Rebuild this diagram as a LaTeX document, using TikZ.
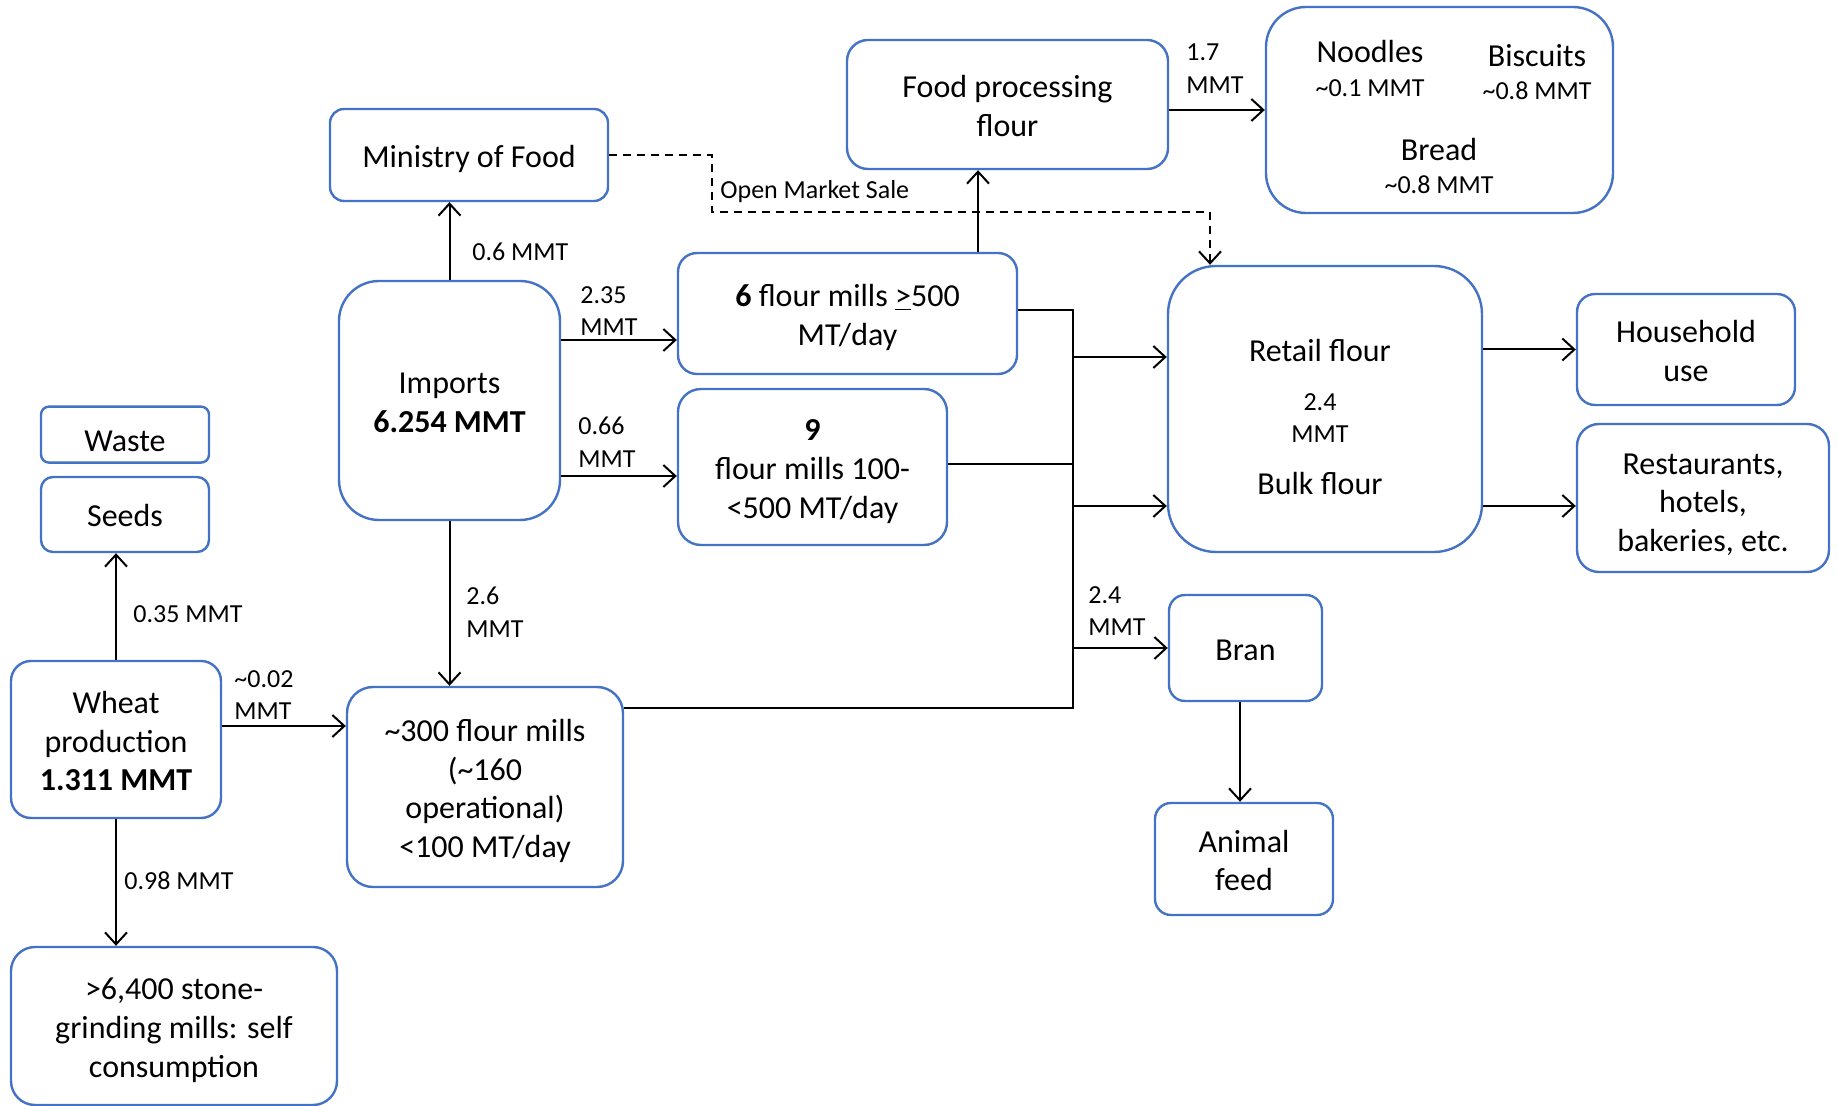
\documentclass[tikz,border=0pt]{standalone}
\usepackage{fontspec}
\setmainfont{Carlito}
\usetikzlibrary{positioning, arrows.meta}

\definecolor{boxblue}{HTML}{4472C4}
\newcommand\boxfont{\fontsize{16}{19.3}\selectfont}
\newcommand\lblfont{\fontsize{13}{16.4}\selectfont}
\newcommand\fls{\rule{0pt}{17pt}}

\begin{document}
\begin{tikzpicture}[x=0.5pt, y=-0.5pt,
  box/.style={draw=boxblue, line width=1.2pt, rounded corners=#1, align=center, inner sep=0pt, font=\boxfont,
    execute at begin node=\fls, text depth=4.5pt},
  box/.default=9pt,
  arrow/.style={-{Straight Barb[length=6pt,width=11pt]}, line width=1pt},
  omsline/.style={arrow, dash pattern=on 4pt off 3pt},
  lbl/.style={font=\lblfont, align=left, inner sep=0pt, anchor=west}]

\useasboundingbox (0,0) rectangle (1837,1106);

%izvori
\node[box=10pt, minimum width=105pt, minimum height=78.5pt] (wheat) at (116,739.5) {\fls Wheat\\production\\\textbf{1.311 MMT}};
\node[box=20pt, minimum width=110.5pt, minimum height=119.5pt] (imports) at (449.5,400.5) {\fls Imports\\\textbf{6.254 MMT}};
\node[box=7pt, minimum width=139pt, minimum height=46pt] (ministry) at (469,155) {Ministry of Food};

%domaca psenica
\node[box=6pt, minimum width=84pt, minimum height=37.5pt] (seeds) at (125,514.5) {Seeds};
\node[box=4pt, minimum width=84pt, minimum height=28pt, above=6pt of seeds, text depth=-2.5pt] (waste) {Waste};
\node[box=12pt, minimum width=163pt, minimum height=79pt] (stone) at (174,1026) {\fls>6,400 stone-\\grinding mills: self\\consumption};

%mlinovi
\node[box=9.5pt, minimum width=169.5pt, minimum height=60.5pt] (mills6) at (847.5,313.5) {\fls\textbf{6} flour mills \underline{>}500\\MT/day};
\node[box=11.5pt, minimum width=134.5pt, minimum height=78pt] (mills9) at (812.5,467) {\fls\textbf{9}\\flour mills 100-\\<500 MT/day};
\node[box=13pt, minimum width=138pt, minimum height=100pt] (mills300) at (485,787) {\fls\textasciitilde300 flour mills\\(\textasciitilde160\\operational)\\<100 MT/day};

%brasno
\node[box=10.5pt, minimum width=160.5pt, minimum height=64.5pt] (foodproc) at (1007.5,104.5) {\fls Food processing\\flour};
\node[box=20pt, minimum width=173.5pt, minimum height=103pt] (products) at (1439.5,110) {};
\node[box=24pt, minimum width=157pt, minimum height=143pt] (retail) at (1325,409) {};
\node[box=8pt, minimum width=76.5pt, minimum height=53pt] (bran) at (1245.5,648) {Bran};
\node[box=8pt, minimum width=89pt, minimum height=56pt] (feed) at (1244,859) {\fls Animal\\feed};

%potrosaci
\node[box=9pt, minimum width=109pt, minimum height=55.5pt] (household) at (1686,349.5) {\fls Household\\use};
\node[box=11pt, minimum width=126pt, minimum height=74pt, text depth=2pt] (restaurants) at (1703,498) {\fls Restaurants,\\hotels,\\bakeries, etc.};

%proizvodi
\node[font=\boxfont] (noodles) at (1370,52) {Noodles};
\node[font=\lblfont] (noodlesamt) at (1370,88) {\textasciitilde0.1 MMT};
\node[font=\boxfont] (biscuits) at (1537,56) {Biscuits};
\node[font=\lblfont] (biscuitsamt) at (1537,91) {\textasciitilde0.8 MMT};
\node[font=\boxfont] (bread) at (1439,150) {Bread};
\node[font=\lblfont] (breadamt) at (1439,185) {\textasciitilde0.8 MMT};

%maloprodaja i rinfuza
\node[font=\boxfont] (retailtxt) at (1320,351) {Retail flour};
\node[lbl, anchor=center, align=center] (retailamt) at (1320,418) {2.4\\MMT};
\node[font=\boxfont] (bulktxt) at (1320,484) {Bulk flour};

%tocke za vodove
\coordinate (fpline) at (978,0);
\coordinate (busend) at (1073,708);
\coordinate (omsturn) at (712,212);
\coordinate (omsdrop) at (1210,212);

%strelice od izvora
\draw[arrow] (imports.north) -- (imports.north |- ministry.south);
\draw[arrow] (imports.east |- 0,340) -- (mills6.west |- 0,340);
\draw[arrow] (imports.east |- 0,476) -- (mills9.west |- 0,476);
\draw[arrow] (imports.south) -- (imports.south |- mills300.north);
\draw[arrow] (wheat.east |- 0,726) -- (mills300.west |- 0,726);
\draw[arrow] (wheat.north) -- (wheat.north |- seeds.south);
\draw[arrow] (wheat.south) -- (wheat.south |- stone.north);

%prerada
\draw[arrow] (fpline |- mills6.north) -- (fpline |- foodproc.south);
\draw[arrow] (foodproc.east |- products.west) -- (products.west);
\draw[omsline] (ministry.east) -| (omsturn) -- (omsdrop) -- (omsdrop |- retail.north);

%sabirnica od mlinova
\draw[line width=1pt] (mills6.east |- 0,310) -| (busend) -- (mills300.east |- busend);
\draw[line width=1pt] (mills9.east |- 0,464) -- (busend |- 0,464);
\draw[arrow] (busend |- 0,357) -- (retail.west |- 0,357);
\draw[arrow] (busend |- 0,506) -- (retail.west |- 0,506);
\draw[arrow] (busend |- bran.west) -- (bran.west);

%prema potrosacima
\draw[arrow] (retail.east |- household.west) -- (household.west);
\draw[arrow] (retail.east |- 0,506) -- (restaurants.west |- 0,506);
\draw[arrow] (bran.south -| 1240,0) -- (feed.north -| 1240,0);

%oznake
\node[lbl] (l06) at (472,252) {0.6 MMT};
\node[lbl] (l235) at (580,311) {2.35\\MMT};
\node[lbl] (l066) at (578,442) {0.66\\MMT};
\node[lbl] (l26) at (466,612) {2.6\\MMT};
\node[lbl] (l002) at (234,695) {\textasciitilde0.02\\MMT};
\node[lbl] (l035) at (133,614) {0.35 MMT};
\node[lbl] (l098) at (124,881) {0.98 MMT};
\node[lbl] (l17) at (1186,69) {1.7\\MMT};
\node[lbl] (l24) at (1088,611) {2.4\\MMT};
\node[lbl] (omslbl) at (720,192) {Open Market Sale};

\end{tikzpicture}
\end{document}
